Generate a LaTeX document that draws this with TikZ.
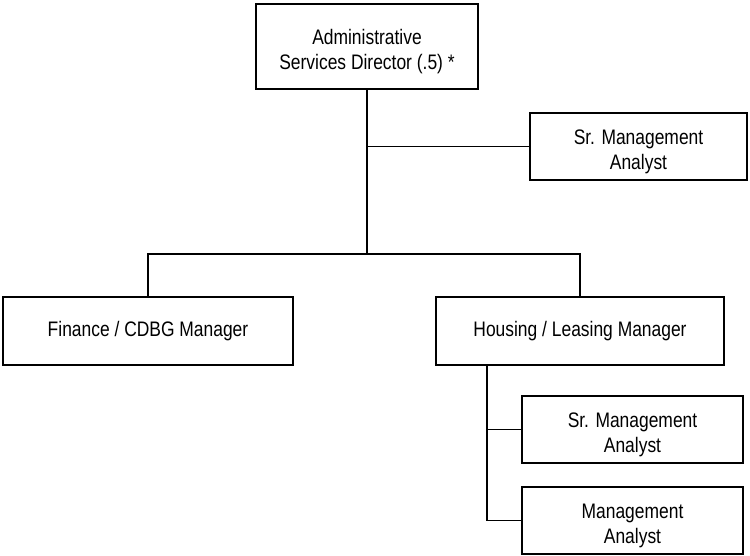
\documentclass[tikz,border=0pt]{standalone}
\usepackage{fontspec}
\setmainfont{Liberation Sans}[FakeStretch=0.83]
% tall strut that lowers two-line labels inside their boxes
\newcommand{\topgap}{\rule{0pt}{25bp}}
\begin{document}
\begin{tikzpicture}[x=1bp,y=-1bp,
  box/.style={draw, line width=1.5bp, rectangle, align=center, inner sep=0pt,
              font=\fontsize{21bp}{25bp}\selectfont},
  link/.style={line width=1.5bp}]
\useasboundingbox (0,0) rectangle (750,556);
\fill[white] (0,0) rectangle (750,556);

% boxes
\node[box, minimum width=222bp, minimum height=85bp] (dir) at (367,46.5)
  {\topgap Administrative\\Services Director (.5) *};
\node[box, minimum width=217bp, minimum height=67bp] (sma1) at (638.5,146.5)
  {\topgap Sr. Management\\Analyst};
\node[box, minimum width=290bp, minimum height=68bp] (fin) at (148,331)
  {Finance / CDBG Manager};
\node[box, minimum width=288bp, minimum height=68bp] (hous) at (580,331)
  {Housing / Leasing Manager};
\node[box, minimum width=221bp, minimum height=67bp] (sma2) at (632.5,429.5)
  {\topgap Sr. Management\\Analyst};
\node[box, minimum width=221bp, minimum height=67bp] (ma) at (632.5,520.5)
  {\topgap Management\\Analyst};

% junction points
\coordinate (jdir) at (367,254);
\coordinate (jstaff) at (367,146.5);
\coordinate (jleft) at (148,254);
\coordinate (jright) at (580,254);
\coordinate (jh) at (487,365);
\coordinate (jh1) at (487,429.5);
\coordinate (jh2) at (487,520.5);

% connectors
\draw[link] (dir.south) -- (jdir);
\draw[link] (jstaff) -- (sma1.west);
\draw[link] (fin.north) -- (jleft) -- (jright) -- (hous.north);
\draw[link] (jh) -- (jh2) -- (ma.west);
\draw[link] (jh1) -- (sma2.west);
\end{tikzpicture}
\end{document}
